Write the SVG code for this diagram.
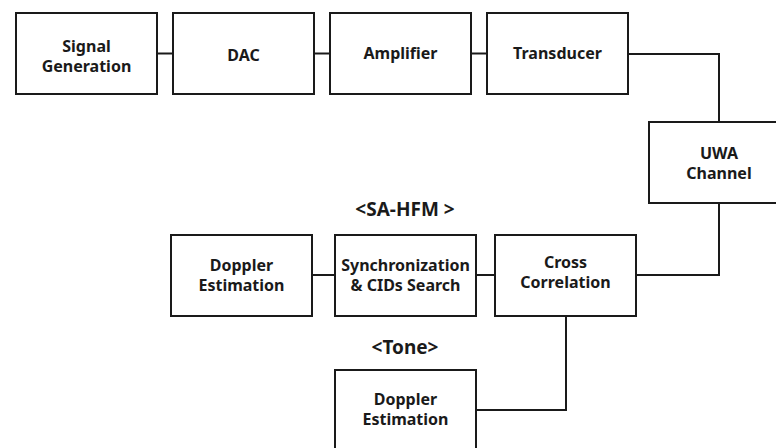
<svg xmlns="http://www.w3.org/2000/svg" width="776" height="448" viewBox="0 0 776 448">
<style>
.box{fill:#fff;stroke:#1a1a1a;stroke-width:2}
.lbl{font-family:"Noto Sans","Open Sans","DejaVu Sans",sans-serif;font-weight:bold;font-size:16px;fill:#1a1a1a;text-anchor:middle}
.ttl{font-family:"Noto Sans","Open Sans","DejaVu Sans",sans-serif;font-weight:bold;font-size:19px;fill:#1a1a1a;text-anchor:middle}
.con{fill:none;stroke:#1a1a1a;stroke-width:2}
</style>
<rect width="776" height="448" fill="#fff"/>
<g id="connectors">
<path class="con" d="M157 53.5H173"/>
<path class="con" d="M314 53.5H330"/>
<path class="con" d="M471 53.5H487"/>
<path class="con" d="M628 54H719V122"/>
<path class="con" d="M719 203V275H636"/>
<path class="con" d="M476 275H495"/>
<path class="con" d="M312 275H335"/>
<path class="con" d="M566 316V410H476"/>
</g>
<g id="signal-generation"><rect class="box" x="16" y="13" width="141" height="81"/><text class="lbl" x="86.5" y="51.5">Signal</text><text class="lbl" x="86.5" y="71.5">Generation</text></g>
<g id="dac"><rect class="box" x="173" y="13" width="141" height="81"/><text class="lbl" x="243.5" y="61">DAC</text></g>
<g id="amplifier"><rect class="box" x="330" y="13" width="141" height="81"/><text class="lbl" x="400.5" y="59">Amplifier</text></g>
<g id="transducer"><rect class="box" x="487" y="13" width="141" height="81"/><text class="lbl" x="557.5" y="59">Transducer</text></g>
<g id="uwa-channel"><rect class="box" x="649" y="122" width="141" height="81"/><text class="lbl" x="719" y="158.5">UWA</text><text class="lbl" x="719" y="178.5">Channel</text></g>
<text class="ttl" x="405" y="216">&lt;SA-HFM &gt;</text>
<g id="doppler-estimation-sa"><rect class="box" x="171" y="235" width="141" height="81"/><text class="lbl" x="241.5" y="270.5">Doppler</text><text class="lbl" x="241.5" y="290.5">Estimation</text></g>
<g id="sync-cids"><rect class="box" x="335" y="235" width="141" height="81"/><text class="lbl" x="405.5" y="270.5">Synchronization</text><text class="lbl" x="405.5" y="290.5">&amp; CIDs Search</text></g>
<g id="cross-correlation"><rect class="box" x="495" y="235" width="141" height="81"/><text class="lbl" x="565.5" y="267.5">Cross</text><text class="lbl" x="565.5" y="287.5">Correlation</text></g>
<text class="ttl" x="405" y="354">&lt;Tone&gt;</text>
<g id="doppler-estimation-tone"><rect class="box" x="335" y="370" width="141" height="81"/><text class="lbl" x="405.5" y="404.5">Doppler</text><text class="lbl" x="405.5" y="424.5">Estimation</text></g>
</svg>
